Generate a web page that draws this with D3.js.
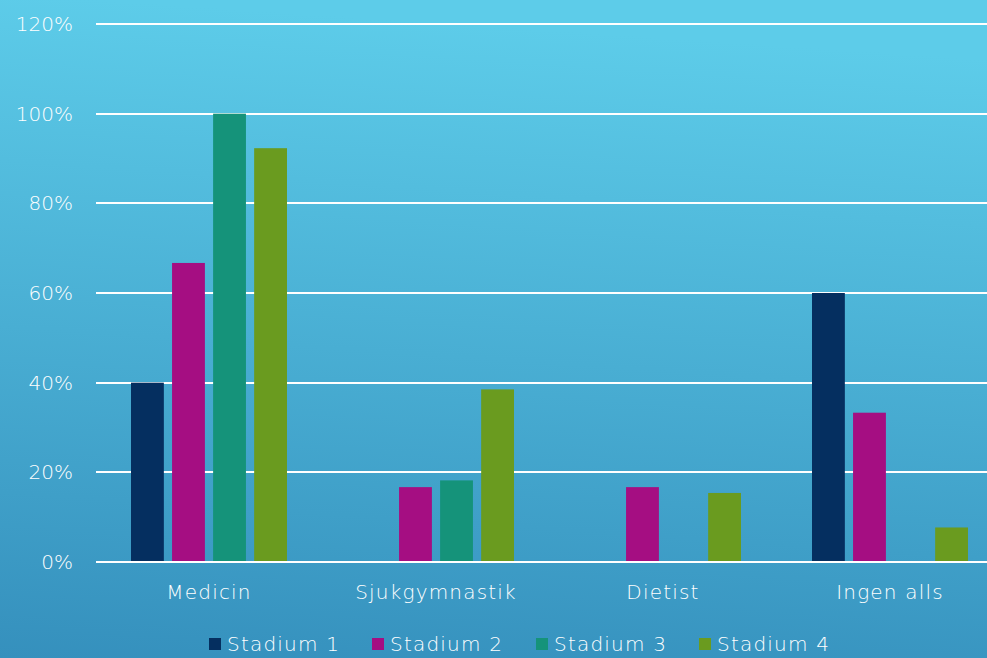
<!DOCTYPE html>
<html>
<head>
<meta charset="utf-8">
<script src="https://cdn.jsdelivr.net/npm/d3@7"></script>
<style>
  html, body { margin: 0; padding: 0; overflow: hidden; }
  svg { display: block; }
  text { font-family: "Century Gothic", "DejaVu Sans", sans-serif; font-weight: 200; fill: #ffffff; }
</style>
</head>
<body>
<svg id="chart" width="987" height="658"></svg>
<script>
// Share of patients per treatment, by disease stage
const categories = ["Medicin", "Sjukgymnastik", "Dietist", "Ingen alls"];
const seriesNames = ["Stadium 1", "Stadium 2", "Stadium 3", "Stadium 4"];
const stadium1 = [40, 0, 0, 60];
const stadium2 = [66.7, 16.7, 16.7, 33.3];
const stadium3 = [100, 18.2, 0, 0];
const stadium4 = [92.3, 38.5, 15.4, 7.7];
const seriesColors = ["#052f60", "#a50e82", "#15937a", "#6a9b1f"];
const yTicks = [0, 20, 40, 60, 80, 100, 120];

const seriesValues = [stadium1, stadium2, stadium3, stadium4];

const W = 987, H = 658;
const plotLeft = 96, plotBottom = 562, plotTop = 24;
const bandStep = 227;
const svg = d3.select("#chart");
const FONT = "\"Century Gothic\", \"DejaVu Sans\", sans-serif";

// background gradient
const defs = svg.append("defs");
const grad = defs.append("linearGradient").attr("id", "bg")
  .attr("x1", "0.1").attr("y1", "0").attr("x2", "0").attr("y2", "1");
grad.append("stop").attr("offset", "0%").attr("stop-color", "#5dcce9");
grad.append("stop").attr("offset", "100%").attr("stop-color", "#3590bd");
svg.append("rect").attr("width", W).attr("height", H).attr("fill", "url(#bg)");

// category bands continue past the right edge of the canvas
const x0 = d3.scaleBand().domain(categories)
  .range([plotLeft - 0.5, plotLeft - 0.5 + bandStep * categories.length]);
const x1 = d3.scaleBand().domain(seriesNames)
  .range([35.5, x0.bandwidth() - 35.5]).paddingInner(0.2).paddingOuter(0);
const y = d3.scaleLinear().domain([0, 120]).range([plotBottom, plotTop]);

// gridlines
svg.append("g").selectAll("line").data(yTicks).join("line")
  .attr("x1", plotLeft).attr("x2", W)
  .attr("y1", d => Math.round(y(d))).attr("y2", d => Math.round(y(d)))
  .attr("stroke", "#ffffff").attr("stroke-width", 2);

// y axis labels
const yAxis = d3.axisLeft(y).tickValues(yTicks).tickFormat(d => d + "%").tickSize(0).tickPadding(23);
const gy = svg.append("g").attr("transform", `translate(${plotLeft},0)`).call(yAxis);
gy.select(".domain").remove();
gy.selectAll("text").attr("font-size", 20).style("fill", "#ffffff")
  .style("font-family", FONT).style("font-weight", 200);

// bars
const groups = svg.append("g").selectAll("g").data(categories).join("g")
  .attr("transform", d => `translate(${x0(d)},0)`);
groups.selectAll("rect")
  .data((c, i) => seriesNames.map((s, j) => ({ s, j, v: seriesValues[j][i] })))
  .join("rect")
  .attr("x", d => x1(d.s))
  .attr("width", x1.bandwidth())
  .attr("y", d => y(d.v))
  .attr("height", d => y(0) - y(d.v))
  .attr("fill", d => seriesColors[d.j]);

// baseline drawn over the bars
svg.append("line")
  .attr("x1", plotLeft).attr("x2", W)
  .attr("y1", Math.round(y(0))).attr("y2", Math.round(y(0)))
  .attr("stroke", "#ffffff").attr("stroke-width", 2);

// x axis labels
const xAxis = d3.axisBottom(x0).tickSize(0).tickPadding(23);
const gx = svg.append("g").attr("transform", `translate(0,${y(0)})`).call(xAxis);
gx.select(".domain").remove();
gx.selectAll("text").attr("font-size", 20).style("fill", "#ffffff")
  .style("font-family", FONT).style("font-weight", 200).style("letter-spacing", "1.2px");

// legend
const legendX = [209, 372, 536, 699];
const legend = svg.append("g").selectAll("g").data(seriesNames).join("g")
  .attr("transform", (d, i) => `translate(${legendX[i]},644)`);
legend.append("rect").attr("x", 0).attr("y", -6).attr("width", 12).attr("height", 12)
  .attr("fill", (d, i) => seriesColors[i]);
legend.append("text").attr("x", 18).attr("y", 0).attr("dy", "0.36em")
  .attr("font-size", 20).style("letter-spacing", "1.2px").text(d => d);
</script>
</body>
</html>
